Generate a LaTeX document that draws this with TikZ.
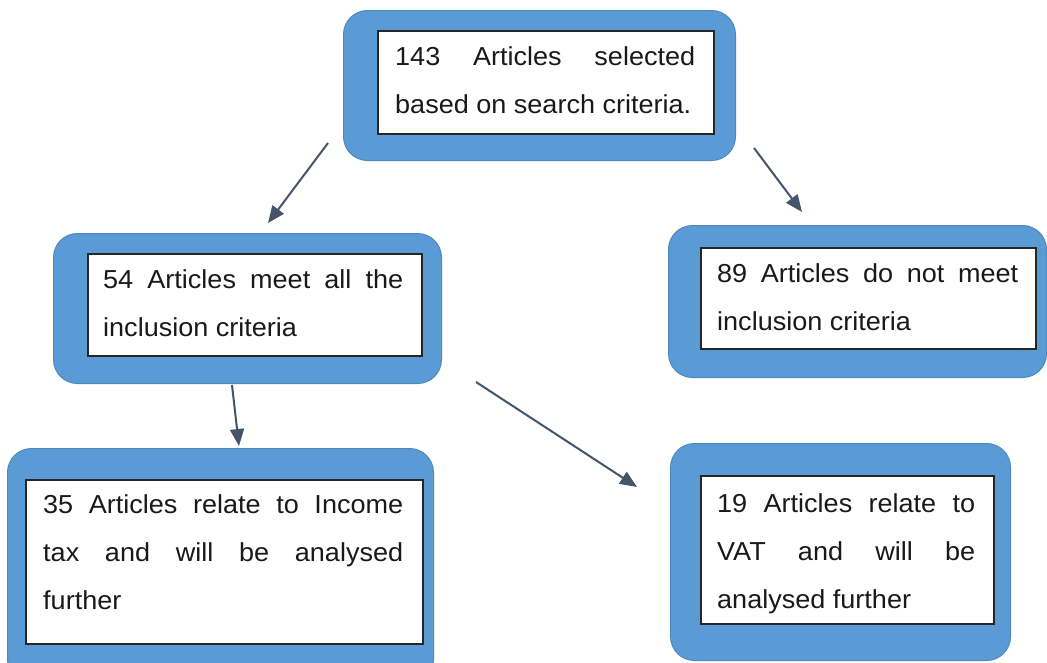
\documentclass[tikz,border=0pt]{standalone}
\usepackage{fontspec}
\setmainfont{Liberation Sans}[FakeStretch=1.04]
\usetikzlibrary{arrows.meta}
\definecolor{boxblue}{HTML}{5B9BD5}
\definecolor{boxedge}{HTML}{4E88C0}
\definecolor{arrowcol}{HTML}{44546A}
\hbadness=10000
\tolerance=10000
\hyphenpenalty=10000
\parindent=0pt
\begin{document}
\begin{tikzpicture}[x=1pt,y=-1pt,
  outerbox/.style={draw=boxedge, fill=boxblue, line width=1pt, rounded corners=24pt, anchor=north west, inner sep=0pt},
  innerbox/.style={draw=black!85, fill=white, line width=1.5pt, anchor=north west, inner sep=0pt},
  boxtext/.style={anchor=north west, inner sep=0pt, align=justify, font=\fontsize{26}{48}\selectfont, text=black!90},
  flow/.style={draw=arrowcol, line width=2pt, -{Triangle[length=17pt,width=14pt]}}]
\useasboundingbox (0,0) rectangle (1047,662);
\clip (0,0) rectangle (1047,662);
% box 1
\node[outerbox, minimum width=392pt, minimum height=150pt] (o1) at (343,10) {};
\node[innerbox, minimum width=336pt, minimum height=103pt] (i1) at (377,30) {};
\node[boxtext, text width=300pt] (t1) at (395,31.4) {\strut 143 Articles selected\linebreak based on search criteria.};
% box 2
\node[outerbox, minimum width=388pt, minimum height=150pt] (o2) at (53,233) {};
\node[innerbox, minimum width=334pt, minimum height=102pt] (i2) at (87,253) {};
\node[boxtext, text width=300pt] (t2) at (103,254.4) {\strut 54 Articles meet all the\linebreak inclusion criteria};
% box 3
\node[outerbox, minimum width=378pt, minimum height=152pt] (o3) at (668,225) {};
\node[innerbox, minimum width=335pt, minimum height=101pt] (i3) at (700,247) {};
\node[boxtext, text width=301pt] (t3) at (717,248.4) {\strut 89 Articles do not meet\linebreak inclusion criteria};
% box 4
\node[outerbox, minimum width=426pt, minimum height=235pt] (o4) at (7,448) {};
\node[innerbox, minimum width=397pt, minimum height=164pt] (i4) at (25,479) {};
\node[boxtext, text width=360pt] (t4) at (43,479.4) {\strut 35 Articles relate to Income\linebreak tax and will be analysed\linebreak further};
% box 5
\node[outerbox, minimum width=340pt, minimum height=217pt] (o5) at (670,443) {};
\node[innerbox, minimum width=293pt, minimum height=148pt] (i5) at (700,475) {};
\node[boxtext, text width=258pt] (t5) at (717,478.4) {\strut 19 Articles relate to\linebreak VAT and will be\linebreak analysed further};
% arrows
\coordinate (a1s) at (328,143); \coordinate (a1e) at (268,223);
\coordinate (a2s) at (754,148); \coordinate (a2e) at (802,212);
\coordinate (a3s) at (232,385); \coordinate (a3e) at (239,446);
\coordinate (a4s) at (476,382); \coordinate (a4e) at (637,487);
\draw[flow] (a1s) -- (a1e);
\draw[flow] (a2s) -- (a2e);
\draw[flow] (a3s) -- (a3e);
\draw[flow] (a4s) -- (a4e);
\end{tikzpicture}
\end{document}
